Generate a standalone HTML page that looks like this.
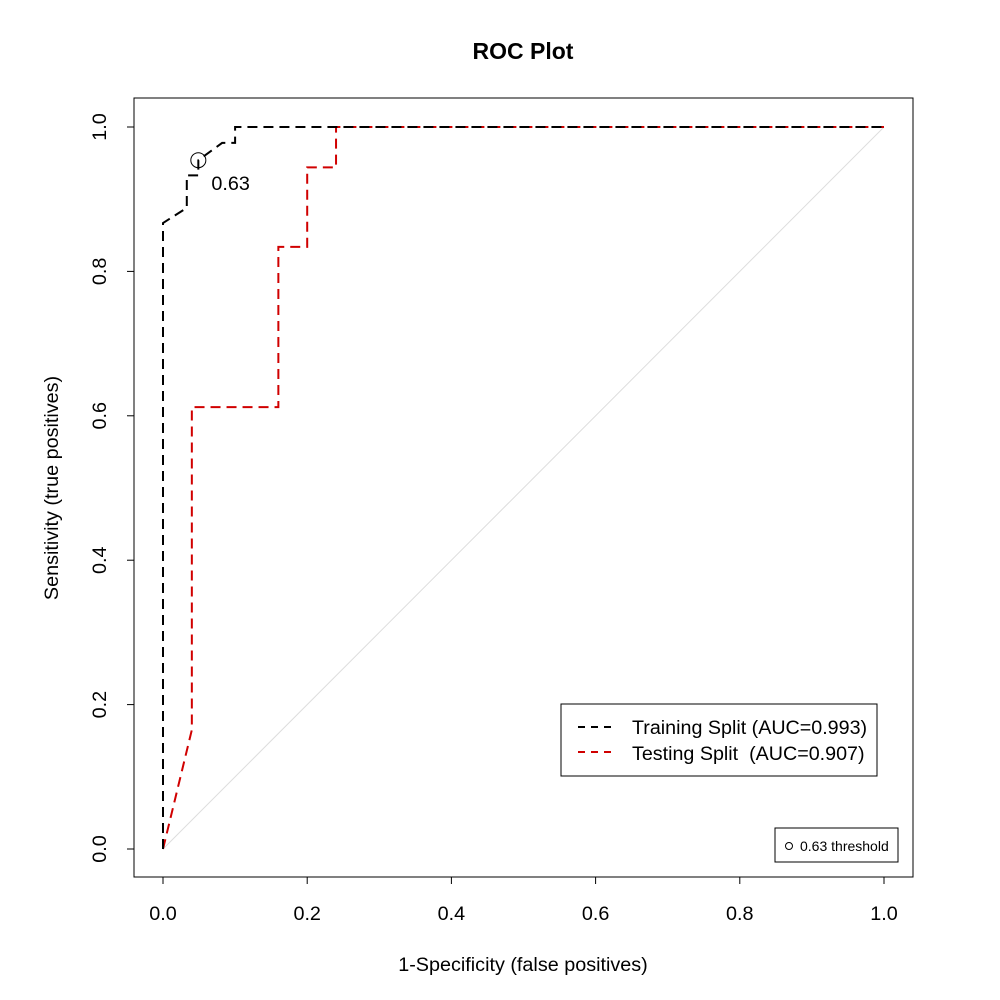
<!DOCTYPE html>
<html><head><meta charset="utf-8"><style>
body{margin:0;background:#fff;}
svg{display:block;font-family:"Liberation Sans",Arial,sans-serif;}
</style></head><body>
<svg id="chart" width="1000" height="1000">
<text x="523" y="59" text-anchor="middle" font-size="23" font-weight="bold">ROC Plot</text>
<rect x="134" y="98" width="779" height="779" fill="none" stroke="#000"/>
<text x="523" y="971" text-anchor="middle" font-size="19.8">1-Specificity (false positives)</text>
<text transform="translate(58,488) rotate(-90)" text-anchor="middle" font-size="19.8">Sensitivity (true positives)</text>
<g id="axes"></g>
<g id="series"></g>
<g>
<rect x="561" y="704" width="316" height="72" fill="#fff" stroke="#000"/>
<line x1="578" y1="727" x2="617" y2="727" stroke="#000" stroke-width="2" stroke-dasharray="7,6"/>
<text x="632" y="734" font-size="19.7">Training Split (AUC=0.993)</text>
<line x1="578" y1="752" x2="617" y2="752" stroke="#d00000" stroke-width="2" stroke-dasharray="7,6"/>
<text x="632" y="760" font-size="19.7" xml:space="preserve">Testing Split  (AUC=0.907)</text>
</g>
<g>
<rect x="775" y="828" width="123" height="34" fill="#fff" stroke="#000"/>
<circle cx="789" cy="846" r="3.5" fill="none" stroke="#000"/>
<text x="800" y="851" font-size="14">0.63 threshold</text>
</g>
</svg>
<script>
const xTicks=[0,0.2,0.4,0.6,0.8,1.0];
const yTicks=[0,0.2,0.4,0.6,0.8,1.0];
const tickLabels=["0.0","0.2","0.4","0.6","0.8","1.0"];
const trainFpr=[0,0,0.033,0.033,0.049,0.049,0.082,0.1,0.1,1];
const trainTpr=[0,0.867,0.888,0.933,0.933,0.954,0.978,0.978,1,1];
const testFpr=[0,0.04,0.04,0.16,0.16,0.2,0.2,0.24,0.24,1];
const testTpr=[0,0.165,0.612,0.612,0.834,0.834,0.944,0.944,1,1];
const thrFpr=0.049, thrTpr=0.954, thrLabel="0.63";
const sx=v=>163+721*v, sy=v=>849-722*v;
const NS="http://www.w3.org/2000/svg";
function mk(tag,attrs,parent){const e=document.createElementNS(NS,tag);for(const k in attrs)e.setAttribute(k,attrs[k]);parent.appendChild(e);return e;}
const axes=document.getElementById('axes'), ser=document.getElementById('series');
mk('line',{x1:sx(0),y1:877,x2:sx(1),y2:877,stroke:'#000'},axes);
mk('line',{x1:134,y1:sy(0),x2:134,y2:sy(1),stroke:'#000'},axes);
xTicks.forEach((v,i)=>{
 const l=mk('line',{x1:sx(v),y1:877,x2:sx(v),y2:884,stroke:'#000'},axes);
 
 
 const t=mk('text',{x:sx(v),y:920,'text-anchor':'middle','font-size':19.8},axes);t.textContent=tickLabels[i];
 
 
});
yTicks.forEach((v,i)=>{
 const l=mk('line',{x1:127,y1:sy(v),x2:134,y2:sy(v),stroke:'#000'},axes);
 
 
 const t=mk('text',{transform:`translate(106,${sy(v)}) rotate(-90)`,'text-anchor':'middle','font-size':19.8},axes);t.textContent=tickLabels[i];
 
 
});
const diag=mk('line',{x1:sx(0),y1:sy(0),x2:sx(1),y2:sy(1),stroke:'#dddddd'},ser);


function path(fx,ty){return fx.map((v,i)=>(i?'L':'M')+sx(v)+','+sy(ty[i])).join(' ');}
const pt=mk('path',{d:path(testFpr,testTpr),fill:'none',stroke:'#d00000','stroke-width':2,'stroke-dasharray':'10,6'},ser);


const pr=mk('path',{d:path(trainFpr,trainTpr),fill:'none',stroke:'#000','stroke-width':2,'stroke-dasharray':'10,6'},ser);


const c=mk('circle',{cx:sx(thrFpr),cy:sy(thrTpr),r:7.5,fill:'none',stroke:'#000'},ser);


const tl=mk('text',{x:sx(thrFpr)+13,y:sy(thrTpr)+30,'font-size':19.8},ser);tl.textContent=thrLabel;


</script>
</body></html>
